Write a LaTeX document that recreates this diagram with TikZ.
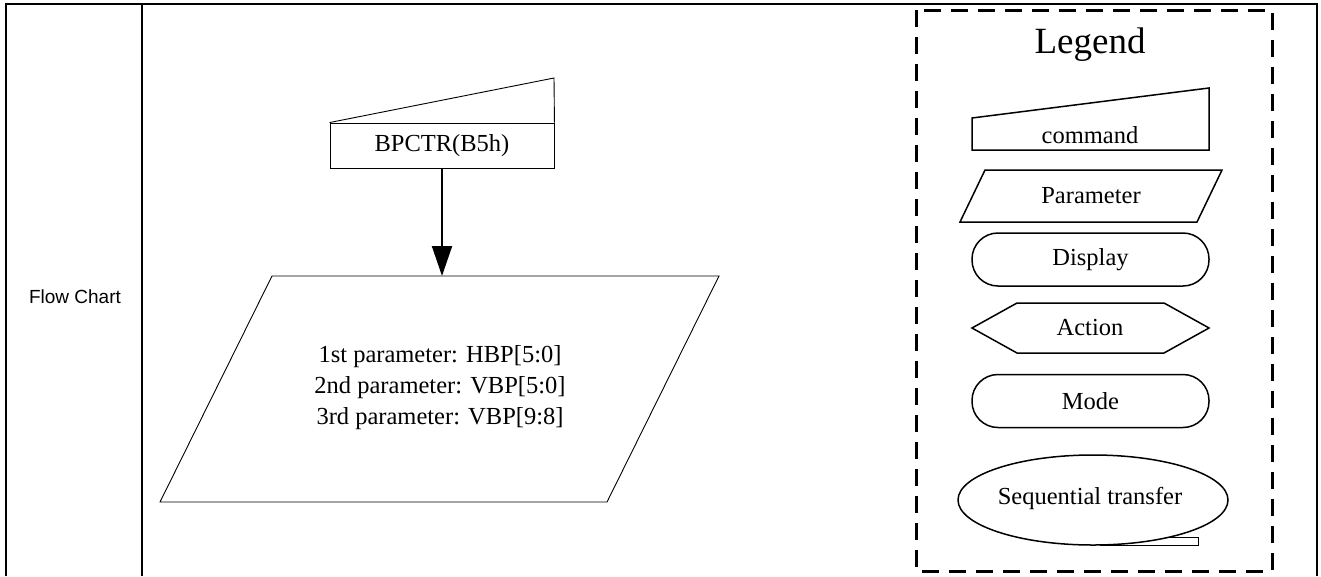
\documentclass[tikz,border=0pt]{standalone}
\usepackage{fontspec}
\setmainfont{Liberation Serif}
\setsansfont{Liberation Sans}
\usetikzlibrary{positioning,arrows.meta,shapes.geometric}

\begin{document}
\begin{tikzpicture}[x=1pt, y=-1pt,
  every node/.style={font=\fontsize{24.5}{31}\selectfont},
  shp/.style={draw, line width=0.9pt},
  lshp/.style={draw, line width=1.5pt},
  pill/.style={lshp, rectangle, rounded corners=26pt, minimum width=237pt, minimum height=53pt},
  flow/.style={-{Triangle[length=30pt, width=20pt]}, line width=2pt},
  frame/.style={line width=2.5pt},
  legbox/.style={line width=3pt, dash pattern=on 17pt off 10pt}]

\useasboundingbox (0,0) rectangle (1321,576);

% table
\draw[frame] (6,576) -- (6,4) -- (1317,4) -- (1317,576);
\draw[frame] (142,4) -- (142,576);
\node[font=\sffamily\fontsize{19}{22}\selectfont] (rowname) at (75,297) {Flow Chart};

% flow chart
\node[shp, minimum width=224pt, minimum height=45pt, inner sep=0pt] (cmd) at (442,145.5) {BPCTR(B5h)};
\draw[shp] (cmd.north west) -- (554,78) -- (cmd.north east);

\coordinate (ptl) at (272,276);
\coordinate (ptr) at (719,276);
\coordinate (pbr) at (607,502);
\coordinate (pbl) at (160,502);
\coordinate (ptop) at (cmd.south |- ptl);
\draw[shp] (ptl) -- (ptr) -- (pbr) -- (pbl) -- cycle;
\node[align=center] (par) at (440,388) {1st parameter: HBP[5:0]\\2nd parameter: VBP[5:0]\\3rd parameter: VBP[9:8]};

\draw[flow] (cmd.south) -- (ptop);

% legend
\draw[legbox] (916,10) rectangle (1272,571);
\node[font=\fontsize{37}{40}\selectfont] (legend) at (1090,45) {Legend};

\draw[lshp] (972,118) -- (1209,88) -- (1209,150) -- (972,150) -- cycle;
\node (lcmd) at (1090,135) {command};

\draw[lshp] (985,170) -- (1222,170) -- (1197,222) -- (960,222) -- cycle;
\node (lpar) at (1091,196) {Parameter};

\node[pill] (ldisp) at (1090.5,259.5) {Display};

\draw[lshp] (972,328) -- (1017,303) -- (1164,303) -- (1209,328) -- (1164,353) -- (1017,353) -- cycle;
\node (lact) at (1090,328) {Action};

\node[pill] (lmode) at (1090.5,401) {Mode};

\node[lshp, ellipse, minimum width=270pt, minimum height=90pt, inner sep=0pt] (lseq) at (1093,500) {};
\node (lseqtxt) at (1090,498) {Sequential transfer};
\draw[lshp, line width=1pt] (1165,537.5) -- (1198,537.5) -- (1198,545) -- (1100,545);
\end{tikzpicture}
\end{document}
